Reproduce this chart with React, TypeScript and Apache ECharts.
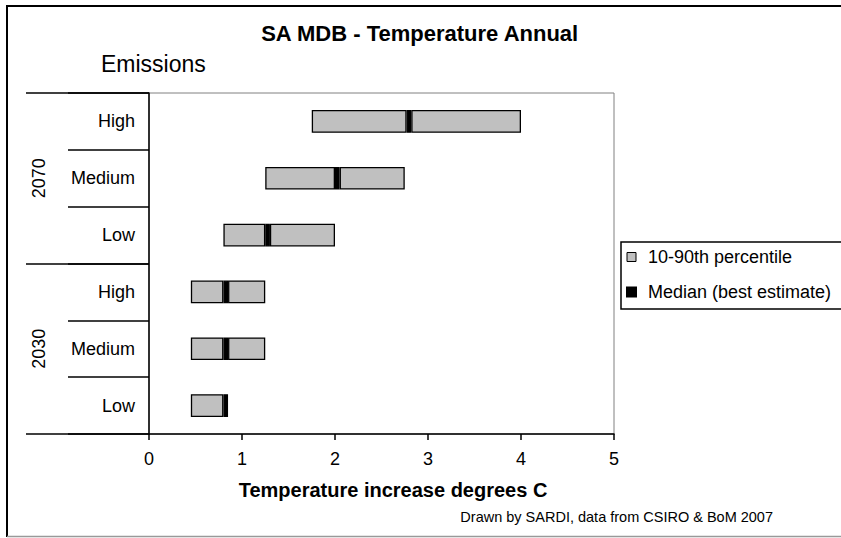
import React, { useEffect, useRef } from "react";
import * as echarts from "echarts";

// Emission scenarios shown within each projection period (bottom to top)
const SCENARIOS = ["Low", "Medium", "High"];
// Projection periods (bottom to top)
const PERIODS = ["2030", "2070"];

// Warming ranges in degrees C, one entry per period/scenario, bottom to top:
// 2030 Low, 2030 Medium, 2030 High, 2070 Low, 2070 Medium, 2070 High
const P10 = [0.45, 0.45, 0.45, 0.8, 1.25, 1.75];
const MEDIAN = [0.8, 0.8, 0.8, 1.25, 2.0, 2.77];
const P90 = [0.85, 1.25, 1.25, 2.0, 2.75, 4.0];
// Thickness of the black median marker, in degrees C
const MEDIAN_MARK = 0.05;

const X_TICKS = [0, 1, 2, 3, 4, 5];

const FONT = "'Liberation Sans', Arial, sans-serif";

export default function App() {
  const ref = useRef<HTMLDivElement>(null);

  useEffect(() => {
    if (!ref.current) return;
    const chart = echarts.init(ref.current, undefined, { renderer: "svg" });

    const categories: string[] = [];
    PERIODS.forEach((p) => SCENARIOS.forEach((s) => categories.push(p + "|" + s)));

    const lower = MEDIAN.map((m, i) => +(m - P10[i]).toFixed(4));
    const mark = MEDIAN.map(() => MEDIAN_MARK);
    const upper = P90.map((p, i) => {
      const v = +(p - MEDIAN[i] - MEDIAN_MARK).toFixed(4);
      return v > 1e-6 ? v : "-";
    });

    const grey = "#C0C0C0";
    const barBorder = { borderColor: "#000", borderWidth: 1.3 };

    chart.setOption({
      animation: false,
      backgroundColor: "#fff",
      textStyle: { fontFamily: FONT },
      grid: {
        left: 149,
        right: 227,
        top: 93,
        bottom: 104,
        show: true,
        borderColor: "#808080",
        borderWidth: 1,
        backgroundColor: "transparent",
      },
      legend: {
        orient: "vertical",
        left: 621,
        top: 242,
        icon: "rect",
        itemWidth: 9,
        itemHeight: 9,
        itemGap: 17,
        selectedMode: false,
        borderColor: "#000",
        borderWidth: 1.5,
        padding: [6, 14, 8, 5],
        textStyle: { fontSize: 18, color: "#000", fontFamily: FONT, padding: [0, 0, 0, 7] },
        data: [
          { name: "10-90th percentile", itemStyle: { color: grey, borderColor: "#000", borderWidth: 1 } },
          { name: "Median (best estimate)", itemStyle: { color: "#000" } },
        ],
      },
      xAxis: {
        type: "value",
        min: X_TICKS[0],
        max: X_TICKS[X_TICKS.length - 1],
        interval: 1,
        name: "Temperature increase degrees C",
        nameLocation: "middle",
        nameGap: 46,
        nameTextStyle: {
          fontSize: 20,
          fontWeight: "bold",
          color: "#000",
          fontFamily: FONT,
          padding: [0, 0, 0, 23],
        },
        axisLine: { show: true, lineStyle: { color: "#000", width: 1.5 } },
        axisTick: { show: true, length: 6, lineStyle: { color: "#000", width: 1.5 } },
        axisLabel: { fontSize: 18, color: "#000", margin: 16, fontFamily: FONT },
        splitLine: { show: false },
      },
      yAxis: [
        {
          type: "category",
          data: categories,
          axisLine: { show: true, lineStyle: { color: "#000", width: 1.5 } },
          axisTick: { show: true, length: 81, lineStyle: { color: "#000", width: 1.5 } },
          axisLabel: {
            fontSize: 18,
            color: "#000",
            margin: 14,
            fontFamily: FONT,
            formatter: (v: string) => v.split("|")[1],
          },
          splitLine: { show: false },
        },
        {
          type: "category",
          data: PERIODS,
          position: "left",
          axisLine: { show: false },
          axisTick: { show: true, length: 123, lineStyle: { color: "#000", width: 1.5 } },
          axisLabel: { fontSize: 18, color: "#000", margin: 101, rotate: 90, fontFamily: FONT },
          splitLine: { show: false },
        },
      ],
      series: [
        {
          name: "base",
          type: "bar",
          stack: "range",
          silent: true,
          barCategoryGap: "60%",
          itemStyle: { color: "transparent" },
          data: P10,
        },
        {
          name: "10-90th percentile",
          type: "bar",
          stack: "range",
          barCategoryGap: "60%",
          itemStyle: { color: grey, ...barBorder },
          data: lower,
        },
        {
          name: "Median (best estimate)",
          type: "bar",
          stack: "range",
          barCategoryGap: "60%",
          itemStyle: { color: "#000", ...barBorder },
          data: mark,
        },
        {
          name: "10-90th percentile",
          type: "bar",
          stack: "range",
          barCategoryGap: "60%",
          itemStyle: { color: grey, ...barBorder },
          data: upper,
        },
      ],
      graphic: [
        // chart frame
        { type: "line", shape: { x1: 6, y1: 6, x2: 841, y2: 6 }, style: { stroke: "#000", lineWidth: 2 } },
        { type: "line", shape: { x1: 7, y1: 6, x2: 7, y2: 537 }, style: { stroke: "#000", lineWidth: 2 } },
        { type: "line", shape: { x1: 7, y1: 536.5, x2: 841, y2: 536.5 }, style: { stroke: "#999", lineWidth: 1.5 } },
        {
          type: "text",
          left: "center",
          top: 22,
          style: { text: "SA MDB - Temperature Annual", font: `bold 22px ${FONT}`, fill: "#000" },
        },
        {
          type: "text",
          x: 101,
          y: 64,
          style: { text: "Emissions", font: `23px ${FONT}`, fill: "#000", verticalAlign: "middle" },
        },
        {
          type: "text",
          x: 773,
          y: 517,
          style: {
            text: "Drawn by SARDI, data from CSIRO & BoM 2007",
            font: `14.5px ${FONT}`,
            fill: "#000",
            align: "right",
            verticalAlign: "middle",
          },
        },
      ],
    });

    return () => chart.dispose();
  }, []);

  return (
    <div
      ref={ref}
      style={{ position: "fixed", left: 0, top: 0, width: 841, height: 538, background: "#fff" }}
    />
  );
}
